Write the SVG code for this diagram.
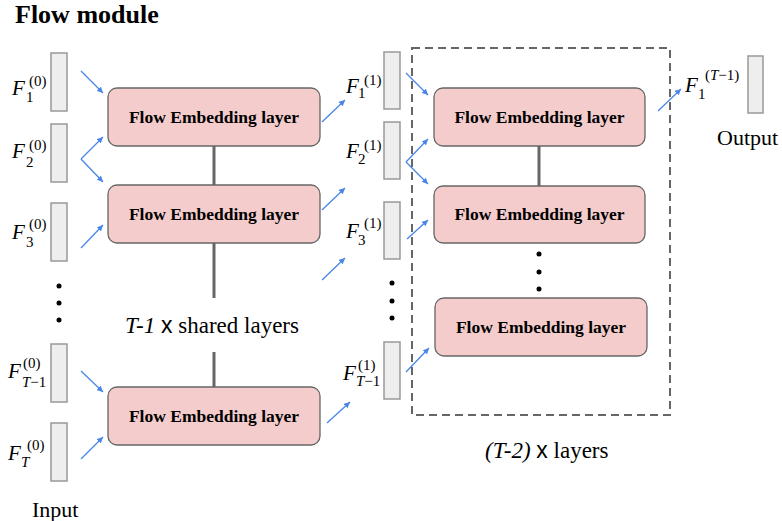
<svg xmlns="http://www.w3.org/2000/svg" width="782" height="521" viewBox="0 0 782 521" font-family="Liberation Serif, serif">
<defs>
<marker id="ah" viewBox="0 0 10 10" refX="10" refY="5" markerWidth="6" markerHeight="6" orient="auto" markerUnits="userSpaceOnUse">
<path d="M0,0 L10,5 L0,10 z" fill="#4a86e8"/>
</marker>
</defs>
<style>
.vec{fill:#eeeeee;stroke:#999999;stroke-width:1.5}
.fel{fill:#f4cccc;stroke:#666666;stroke-width:1.3}
.arr{stroke:#4a86e8;stroke-width:1.3;fill:none;marker-end:url(#ah)}
.link{stroke:#666666;stroke-width:3}
.dot{fill:#000}
</style>
<rect width="782" height="521" fill="#ffffff"/>
<text x="15" y="23" font-family="Liberation Serif, serif" font-weight="bold" font-size="26">Flow module</text>

<g id="input-vectors">
<rect class="vec" x="51" y="53" width="16" height="58"/>
<rect class="vec" x="51" y="124" width="16" height="58"/>
<rect class="vec" x="51" y="203" width="16" height="58"/>
<rect class="vec" x="51" y="344" width="16" height="58"/>
<rect class="vec" x="51" y="423" width="16" height="58"/>
</g>
<g id="input-labels" font-family="Liberation Serif, serif" font-size="15">
<text x="12" y="95" font-style="italic" font-size="21">F</text><text x="26" y="102">1</text><text x="29" y="86">(0)</text>
<text x="12" y="158" font-style="italic" font-size="21">F</text><text x="26" y="167">2</text><text x="29" y="150">(0)</text>
<text x="12" y="239" font-style="italic" font-size="21">F</text><text x="26" y="247">3</text><text x="29" y="229">(0)</text>
<text x="8" y="378" font-style="italic" font-size="21">F</text><text x="22" y="387"><tspan font-style="italic">T</tspan>−1</text><text x="23" y="368">(0)</text>
<text x="8" y="460" font-style="italic" font-size="21">F</text><text x="21" y="467" font-style="italic">T</text><text x="27" y="450">(0)</text>
</g>
<g id="input-dots">
<circle class="dot" cx="59" cy="286" r="2.5"/><circle class="dot" cx="59" cy="303" r="2.5"/><circle class="dot" cx="59" cy="320" r="2.5"/>
</g>
<text x="32" y="517" font-family="Liberation Serif, serif" font-size="22">Input</text>

<g id="fel-1"><rect class="fel" x="108" y="88" width="212" height="58" rx="9"/><text x="214" y="123" font-family="Liberation Serif, serif" font-weight="bold" font-size="17.5" text-anchor="middle">Flow Embedding layer</text></g>
<g id="fel-2"><rect class="fel" x="108" y="185" width="212" height="58" rx="9"/><text x="214" y="220" font-family="Liberation Serif, serif" font-weight="bold" font-size="17.5" text-anchor="middle">Flow Embedding layer</text></g>
<g id="fel-3"><rect class="fel" x="108" y="387" width="212" height="58" rx="9"/><text x="214" y="422" font-family="Liberation Serif, serif" font-weight="bold" font-size="17.5" text-anchor="middle">Flow Embedding layer</text></g>
<text x="125" y="333" font-family="Liberation Serif, serif" font-size="23"><tspan font-style="italic">T-1</tspan> <tspan font-family="Liberation Sans, sans-serif">x</tspan> shared layers</text>

<g id="mid-vectors">
<rect class="vec" x="384" y="52" width="16" height="57"/>
<rect class="vec" x="384" y="122" width="16" height="57"/>
<rect class="vec" x="384" y="202" width="16" height="57"/>
<rect class="vec" x="384" y="342" width="16" height="57"/>
</g>
<g id="mid-labels" font-family="Liberation Serif, serif" font-size="15">
<text x="346" y="93" font-style="italic" font-size="21">F</text><text x="358" y="98">1</text><text x="364" y="85">(1)</text>
<text x="346" y="158" font-style="italic" font-size="21">F</text><text x="358" y="164">2</text><text x="364" y="150">(1)</text>
<text x="346" y="238" font-style="italic" font-size="21">F</text><text x="358" y="245">3</text><text x="364" y="228">(1)</text>
<text x="343" y="380" font-style="italic" font-size="21">F</text><text x="356" y="386"><tspan font-style="italic">T</tspan>−1</text><text x="358" y="370">(1)</text>
</g>
<g id="mid-dots">
<circle class="dot" cx="392" cy="283" r="2.5"/><circle class="dot" cx="392" cy="301" r="2.5"/><circle class="dot" cx="392" cy="318" r="2.5"/>
</g>

<g id="repeat-frame"><rect x="412" y="48" width="258" height="367" fill="none" stroke="#666666" stroke-width="2" stroke-dasharray="8 5"/></g>
<g id="fel-4"><rect class="fel" x="434" y="88" width="211" height="58" rx="9"/><text x="539.5" y="123" font-family="Liberation Serif, serif" font-weight="bold" font-size="17.5" text-anchor="middle">Flow Embedding layer</text></g>
<g id="fel-5"><rect class="fel" x="434" y="186" width="211" height="57" rx="9"/><text x="539.5" y="220" font-family="Liberation Serif, serif" font-weight="bold" font-size="17.5" text-anchor="middle">Flow Embedding layer</text></g>
<g id="fel-6"><rect class="fel" x="435" y="298" width="212" height="58" rx="9"/><text x="541" y="333" font-family="Liberation Serif, serif" font-weight="bold" font-size="17.5" text-anchor="middle">Flow Embedding layer</text></g>
<g id="right-dots">
<circle class="dot" cx="539" cy="254" r="2.5"/><circle class="dot" cx="539" cy="272" r="2.5"/><circle class="dot" cx="539" cy="289" r="2.5"/>
</g>
<text x="485" y="458" font-family="Liberation Serif, serif" font-size="23"><tspan font-style="italic">(T-2)</tspan> <tspan font-family="Liberation Sans, sans-serif">x</tspan> layers</text>

<g id="output" font-family="Liberation Serif, serif" font-size="15">
<rect class="vec" x="748" y="56" width="15" height="57"/>
<text x="685" y="92" font-style="italic" font-size="21">F</text><text x="698" y="99">1</text><text x="705" y="80">(<tspan font-style="italic">T</tspan>−1)</text>
<text x="717" y="145" font-size="22">Output</text>
</g>

<g id="connectors">
<line class="link" x1="214" y1="146" x2="214" y2="185"/>
<line class="link" x1="214" y1="243" x2="214" y2="298"/>
<line class="link" x1="214" y1="352" x2="214" y2="387"/>
<line class="link" x1="539" y1="146" x2="539" y2="186"/>
<line class="arr" x1="81" y1="71" x2="103" y2="93"/>
<line class="arr" x1="81" y1="159" x2="103" y2="137"/>
<line class="arr" x1="81" y1="159" x2="103" y2="182"/>
<line class="arr" x1="81" y1="248" x2="103" y2="225"/>
<line class="arr" x1="81" y1="371" x2="103" y2="392"/>
<line class="arr" x1="81" y1="459" x2="103" y2="437"/>
<line class="arr" x1="322" y1="122" x2="345" y2="100"/>
<line class="arr" x1="322" y1="210" x2="345" y2="188"/>
<line class="arr" x1="322" y1="280" x2="345" y2="258"/>
<line class="arr" x1="327" y1="423" x2="350" y2="402"/>
<line class="arr" x1="406" y1="73" x2="428" y2="95"/>
<line class="arr" x1="406" y1="162" x2="428" y2="139"/>
<line class="arr" x1="406" y1="162" x2="428" y2="184"/>
<line class="arr" x1="407" y1="239" x2="428" y2="220"/>
<line class="arr" x1="406" y1="372" x2="429" y2="348"/>
<line class="arr" x1="658" y1="111" x2="681" y2="89"/>
</g>
</svg>
